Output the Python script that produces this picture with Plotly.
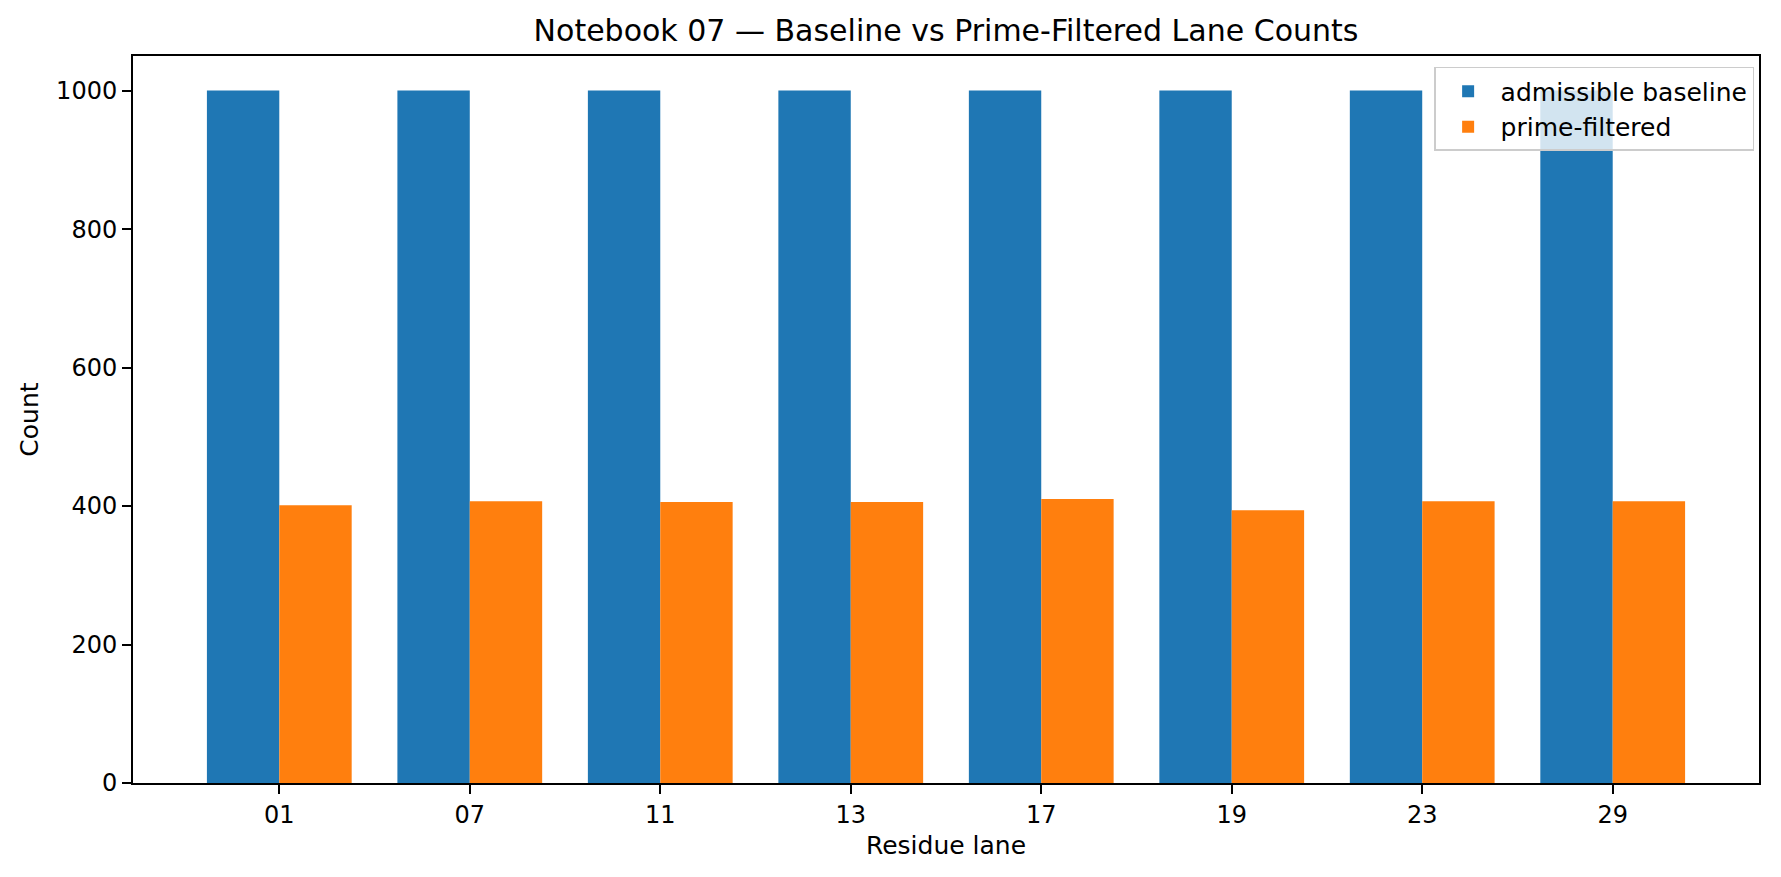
import plotly.graph_objects as go

lanes = ["01", "07", "11", "13", "17", "19", "23", "29"]
baseline = [1000, 1000, 1000, 1000, 1000, 1000, 1000, 1000]
prime_filtered = [401, 407, 406, 406, 410, 394, 407, 407]

FONT = "DejaVu Sans"
FS = 25

fig = go.Figure()
fig.add_trace(go.Bar(x=lanes, y=baseline, name="admissible baseline",
                     marker=dict(color="#1f77b4", line=dict(width=0))))
fig.add_trace(go.Bar(x=lanes, y=prime_filtered, name="prime-filtered",
                     marker=dict(color="#ff7f0e", line=dict(width=0))))

axis_common = dict(showline=True, linecolor="black", linewidth=2, mirror=True,
                   ticks="outside", ticklen=9, tickwidth=2, tickcolor="black",
                   showgrid=False, zeroline=False,
                   tickfont=dict(family=FONT, size=24, color="black"))

fig.update_layout(
    width=1781, height=877,
    paper_bgcolor="white", plot_bgcolor="white",
    barmode="group", bargap=0.24, bargroupgap=0,
    margin=dict(l=133, r=22, t=56, b=94),
    font=dict(family=FONT, color="black"),
    title=dict(text="Notebook 07 — Baseline vs Prime-Filtered Lane Counts",
               x=0.5, xanchor="center", xref="paper", y=1 - 30 / 877, yanchor="middle",
               font=dict(family=FONT, size=30, color="black")),
    xaxis=dict(range=[-0.768, 7.768], type="category",
               title=dict(text="Residue lane", font=dict(family=FONT, size=FS), standoff=9),
               **axis_common),
    yaxis=dict(range=[0, 1050], tickvals=[0, 200, 400, 600, 800, 1000],
               title=dict(text="Count", font=dict(family=FONT, size=FS), standoff=10),
               **axis_common),
    legend=dict(x=0.997, y=0.985, xanchor="right", yanchor="top",
                bgcolor="rgba(255,255,255,0.8)", bordercolor="#cccccc", borderwidth=1.5,
                font=dict(family=FONT, size=FS, color="black"),
                itemwidth=55, tracegroupgap=2),
)

fig.write_html("out.html")
